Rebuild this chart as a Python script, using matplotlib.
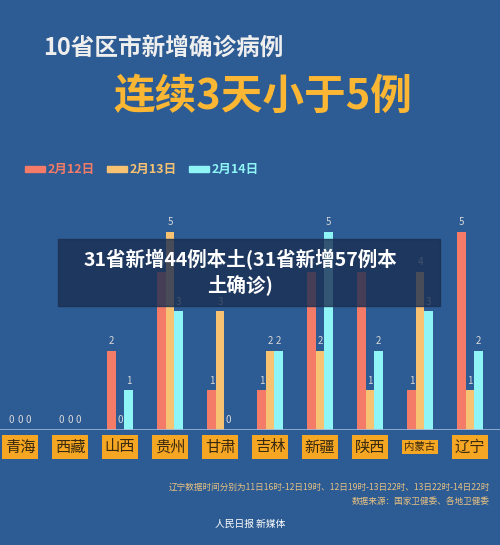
import matplotlib
matplotlib.use("Agg")
import matplotlib.pyplot as plt
import numpy as np
from matplotlib.patches import Rectangle

plt.rcParams['font.family'] = ['Noto Sans CJK SC', 'DejaVu Sans']

provinces = ['青海', '西藏', '山西', '贵州', '甘肃', '吉林', '新疆', '陕西', '内蒙古', '辽宁']
series_names = ['2月12日', '2月13日', '2月14日']
feb12 = [0, 0, 2, 4, 1, 1, 4, 4, 1, 5]
feb13 = [0, 0, 0, 5, 3, 2, 2, 1, 4, 1]
feb14 = [0, 0, 1, 3, 0, 2, 5, 2, 3, 2]
colors = ['#f47b68', '#f8c273', '#8ef4f6']
bg = '#2d5b93'

fig = plt.figure(figsize=(5, 5.45), dpi=100, facecolor=bg)
W, H = 500, 545
ax = fig.add_axes([0, 1 - 430 / H, 1, 277 / H])
ax.set_facecolor(bg)
ax.set_xlim(-0.4, 9.6)
ax.set_ylim(0, 7)
ax.axis('off')

x = np.arange(len(provinces))
bw = 0.17
for k, (vals, c) in enumerate(zip([feb12, feb13, feb14], colors)):
    xs = x + (k - 1) * bw
    ax.bar(xs, vals, width=bw, color=c, zorder=2)
    for xi, v in zip(xs, vals):
        ax.text(xi, v + 0.12, str(v), ha='center', va='bottom', fontsize=7, color='#d8d8d8', zorder=3)

ax.axhline(0, color='#9fb8d8', lw=1.2, zorder=3)

for i, p in enumerate(provinces):
    fs = 7.5 if len(p) > 2 else 11
    fig.text((20 + 50 * i) / W, 1 - 447 / H, p, ha='center', va='center', fontsize=fs,
             color='#3a2a10', bbox=dict(boxstyle='square,pad=0.2', fc='#f5a623', ec='none'))

fig.text(43 / W, 1 - 48 / H, '10省区市新增确诊病例', fontsize=17, fontweight='heavy', color='#eeeeee', va='center')
fig.text(113 / W, 1 - 97 / H, '连续3天小于5例', fontsize=30, fontweight='heavy', color='#fbb733', va='center')

lx = [25, 107, 189]
for xx, name, c in zip(lx, series_names, colors):
    fig.patches.append(Rectangle((xx / W, 1 - 172 / H), 20 / W, 6 / H, transform=fig.transFigure,
                                 color=c, figure=fig))
    fig.text((xx + 23) / W, 1 - 169 / H, name, fontsize=9, fontweight='bold', color=c, va='center')

fig.text(490 / W, 1 - 487 / H, '辽宁数据时间分别为11日16时-12日19时、12日19时-13日22时、13日22时-14日22时',
         fontsize=6.2, color='#e8c283', ha='right', va='center')
fig.text(490 / W, 1 - 501 / H, '数据来源：国家卫健委、各地卫健委', fontsize=6.2, color='#e8c283', ha='right', va='center')
fig.text(250 / W, 1 - 524 / H, '人民日报 新媒体', fontsize=7, color='white', ha='center', va='center')

fig.patches.append(Rectangle((58 / W, 1 - 306 / H), 382 / W, 67 / H, transform=fig.transFigure,
                             color='#1b2f52', alpha=0.8, figure=fig, zorder=5))
fig.text(240 / W, 1 - 272 / H, '31省新增44例本土(31省新增57例本\n土确诊)', fontsize=14, fontweight='bold',
         color='white', ha='center', va='center', linespacing=1.3, zorder=6)

fig.savefig('out.png', dpi=100, facecolor=bg)
